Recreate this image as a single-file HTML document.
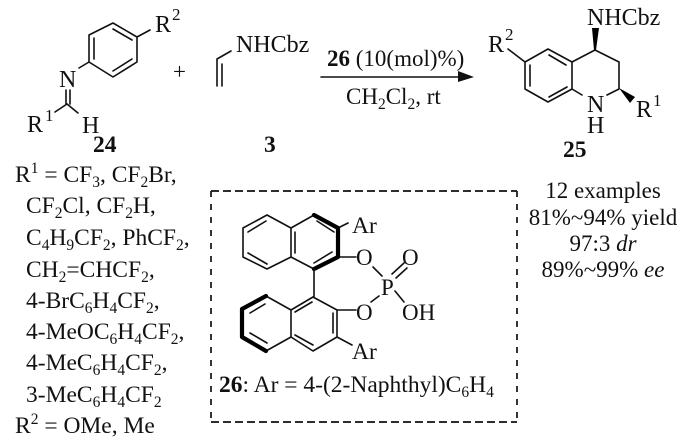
<!DOCTYPE html>
<html><head><meta charset="utf-8"><style>
html,body{margin:0;padding:0;background:#fff}
svg{display:block}
text{font-family:"Liberation Serif",serif;font-size:23.5px;fill:#111}
.n{font-size:23px}
.s{font-size:15.5px}
.u{font-size:17px}
.b{font-weight:bold}
.l{stroke:#111;stroke-width:1.6;fill:none;stroke-linecap:round;stroke-linejoin:round}
.t{stroke:#000;stroke-width:4.2;fill:none;stroke-linecap:round;stroke-linejoin:round}
</style></head><body>
<svg width="700" height="443" viewBox="0 0 700 443" xmlns="http://www.w3.org/2000/svg">
<!-- 24 -->
<path class="l" d="M113 23L137 37V62L113 77L89 62V35ZM94 38V59M113 29L132 40M113 71L132 59M137 37L150 30M89 62L79 68M66 90V104M70 90V104M67 104L55 112M67 104L78 113"/>
<text x="155" y="32" style="font-size:24px">R<tspan class="u" dy="-12" dx="1">2</tspan></text>
<text x="59" y="87" style="font-size:24px">N</text>
<text x="27" y="132" style="font-size:24px">R<tspan class="u" dy="-11" dx="2">1</tspan></text>
<text x="82" y="133" style="font-size:24px">H</text>
<text x="93" y="152" class="b">24</text>
<text x="173" y="79" class="n">+</text>
<!-- 3 -->
<path class="l" d="M217 86V59M222 86V64M217 59L231 51"/>
<text x="236" y="52" style="font-size:24px">NHCbz</text>
<text x="264" y="152" class="b">3</text>
<!-- arrow -->
<path class="l" d="M321 77H462"/>
<path d="M458 71L474 77L458 82Z" fill="#111"/>
<text x="327" y="66" class="n"><tspan class="b">26</tspan> (10(mol)%)</text>
<text x="346" y="104" class="n">CH<tspan class="s" dy="5">2</tspan><tspan dy="-5">Cl</tspan><tspan class="s" dy="5">2</tspan><tspan dy="-5">, rt</tspan></text>
<!-- 25 -->
<path class="l" d="M548 49L572 62V89L548 102L525 89V62ZM549 55L566 65M549 97L567 87M530 65V86M525 62L508 49M572 62L595 50L619 62V89L607 95M572 89L582 95"/>
<path d="M592 28H599L596 50H594Z" fill="#000"/>
<path d="M619 88L635 97L630 103Z" fill="#000"/>
<text x="587" y="25" style="font-size:24px">NHCbz</text>
<text x="488" y="52" style="font-size:24px">R<tspan class="u" dy="-12" dx="1">2</tspan></text>
<text x="636" y="117" style="font-size:24px">R<tspan class="u" dy="-11" dx="1">1</tspan></text>
<text x="587" y="112" style="font-size:24px">N</text>
<text x="587" y="133" style="font-size:24px">H</text>
<text x="563" y="157" class="b">25</text>
<!-- left list -->
<text x="15" y="182">R<tspan class="s" dy="-9">1</tspan><tspan dy="9"> = CF</tspan><tspan class="s" dy="5">3</tspan><tspan dy="-5">, CF</tspan><tspan class="s" dy="5">2</tspan><tspan dy="-5">Br,</tspan></text>
<text x="26" y="213">CF<tspan class="s" dy="5">2</tspan><tspan dy="-5">Cl, CF</tspan><tspan class="s" dy="5">2</tspan><tspan dy="-5">H,</tspan></text>
<text x="26" y="245">C<tspan class="s" dy="5">4</tspan><tspan dy="-5">H</tspan><tspan class="s" dy="5">9</tspan><tspan dy="-5">CF</tspan><tspan class="s" dy="5">2</tspan><tspan dy="-5">, PhCF</tspan><tspan class="s" dy="5">2</tspan><tspan dy="-5">,</tspan></text>
<text x="26" y="277">CH<tspan class="s" dy="5">2</tspan><tspan dy="-5">=CHCF</tspan><tspan class="s" dy="5">2</tspan><tspan dy="-5">,</tspan></text>
<text x="26" y="308">4-BrC<tspan class="s" dy="5">6</tspan><tspan dy="-5">H</tspan><tspan class="s" dy="5">4</tspan><tspan dy="-5">CF</tspan><tspan class="s" dy="5">2</tspan><tspan dy="-5">,</tspan></text>
<text x="26" y="339">4-MeOC<tspan class="s" dy="5">6</tspan><tspan dy="-5">H</tspan><tspan class="s" dy="5">4</tspan><tspan dy="-5">CF</tspan><tspan class="s" dy="5">2</tspan><tspan dy="-5">,</tspan></text>
<text x="26" y="370">4-MeC<tspan class="s" dy="5">6</tspan><tspan dy="-5">H</tspan><tspan class="s" dy="5">4</tspan><tspan dy="-5">CF</tspan><tspan class="s" dy="5">2</tspan><tspan dy="-5">,</tspan></text>
<text x="26" y="402">3-MeC<tspan class="s" dy="5">6</tspan><tspan dy="-5">H</tspan><tspan class="s" dy="5">4</tspan><tspan dy="-5">CF</tspan><tspan class="s" dy="5">2</tspan></text>
<text x="15" y="433">R<tspan class="s" dy="-9">2</tspan><tspan dy="9"> = OMe, Me</tspan></text>
<!-- box -->
<path d="M211 191H517M211 422H517" fill="none" stroke="#111" stroke-width="1.7" stroke-dasharray="8 4"/>
<path d="M211 191V422M517 191V422" fill="none" stroke="#111" stroke-width="1.7" stroke-dasharray="6 7"/>
<!-- 26 upper naphthyl -->
<path class="l" d="M267 215L291 228L314 215M291 228V257M314 269L291 257L267 269L243 257V228L267 215M248 232L266 221M248 253L267 264M295 232V253M317 221L334 232M314 263L332 252M338 228L348 223M338 257H356"/>
<path class="t" d="M314 215L338 228V257L314 269"/>
<!-- link and phosphate -->
<path class="l" d="M314 269V297M373 267L382 276M371 302L379 296M395 291L404 302M392 274L404 263M396 278L407 268M337 310H356M337 337L352 345"/>
<!-- 26 lower naphthyl -->
<path class="l" d="M313 297L337 310V337L313 351L291 337L266 351M291 337V310L313 297M266 296L291 310M295 312L312 302M333 313V333M295 335L313 345M250 313L265 304M250 333L267 343"/>
<path class="t" d="M266 351L242 337V309L266 296"/>
<text x="352" y="233">Ar</text>
<text x="356" y="265" class="n">O</text>
<text x="402" y="265" class="n">O</text>
<text x="381" y="295" class="n">P</text>
<text x="356" y="320" class="n">O</text>
<text x="402" y="320" class="n">OH</text>
<text x="352" y="359">Ar</text>
<text x="219" y="392"><tspan class="b">26</tspan>: Ar = 4-(2-Naphthyl)C<tspan class="s" dy="5">6</tspan><tspan dy="-5">H</tspan><tspan class="s" dy="5">4</tspan></text>
<!-- right notes -->
<text x="603" y="198" text-anchor="middle" class="n">12 examples</text>
<text x="603" y="225" text-anchor="middle" class="n">81%~94% yield</text>
<text x="603" y="251" text-anchor="middle" class="n">97:3 <tspan font-style="italic">dr</tspan></text>
<text x="603" y="277" text-anchor="middle" class="n">89%~99% <tspan font-style="italic">ee</tspan></text>
</svg>
</body></html>
